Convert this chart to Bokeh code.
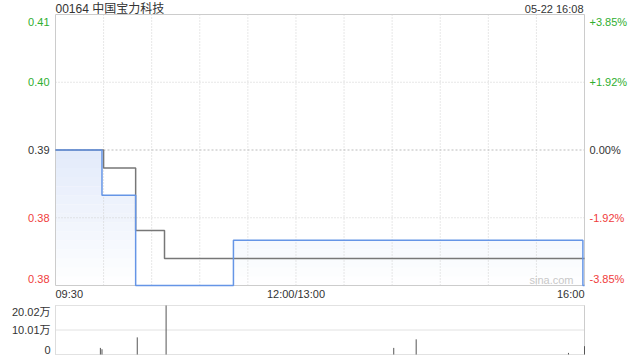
import numpy as np
from bokeh.plotting import figure
from bokeh.models import Range1d
from bokeh.core.properties import value
from bokeh.embed import file_html
from bokeh.resources import INLINE

# ---------------- data ----------------
title_text = "00164 中国宝力科技"
stamp_text = "05-22 16:08"
watermark = "sina.com"
prev_close = 0.39

price_times = ["09:30", "09:59", "10:20", "11:21", "15:59", "16:00"]
price_vals = [0.390, 0.385, 0.375, 0.380, 0.375, 0.375]

avg_times = ["09:30", "10:00", "10:20", "10:38", "16:00"]
avg_vals = [0.390, 0.388, 0.3811, 0.3780, 0.3780]

vol_times = ["09:58", "09:59", "10:21", "10:39", "14:01", "14:15", "15:50", "16:00"]
vol_vals = [27000, 21500, 70000, 200200, 27000, 62000, 6500, 34000]

price_levels = [0.405, 0.3975, 0.39, 0.3825, 0.375]
price_labels = ["0.41", "0.40", "0.39", "0.38", "0.38"]
pct_labels = ["+3.85%", "+1.92%", "0.00%", "-1.92%", "-3.85%"]

vol_levels = [200200, 100100, 0]
vol_labels = ["20.02万", "10.01万", "0"]

x_tick_times = ["09:30", "12:00", "16:00"]
x_tick_labels = ["09:30", "12:00/13:00", "16:00"]
grid_times = ["10:00", "10:30", "11:00", "11:30", "12:00", "13:30",
              "14:00", "14:30", "15:00", "15:30"]

# ---------------- layout (pixels) & styles ----------------
W, H = 640, 360
PX_L, PX_R = 55, 584        # price/volume panel left & right edges
PY_T, PY_B = 14, 285        # price panel top & bottom
VY_T, VY_B = 305, 354       # volume panel top & bottom

FONT = value("Arial, 'Liberation Sans', 'Noto Sans CJK SC', sans-serif")
GREEN = "#2fae2f"
RED = "#f03c3c"
DARK = "#333333"
BORDER = "#cccccc"


def tmin(s):
    h, m = s.split(":")
    t = int(h) * 60 + int(m)
    if t <= 12 * 60:
        return t - (9 * 60 + 30)
    return t - 13 * 60 + 150


def step_pts(xs, ys):
    sx, sy = [], []
    for i in range(len(xs)):
        sx.append(xs[i]); sy.append(ys[i])
        if i + 1 < len(xs):
            sx.append(xs[i + 1]); sy.append(ys[i])
    return np.array(sx, float), np.array(sy, float)


px = [tmin(t) for t in price_times]
ax = [tmin(t) for t in avg_times]
vx = [tmin(t) for t in vol_times]
XMIN, XMAX = tmin("09:30"), tmin("16:00")
PMAX, PMIN = price_levels[0], price_levels[-1]
VMAX = vol_levels[0]

# ranges so that the panels land where the reference shows them
ux = (XMAX - XMIN) / (PX_R - PX_L)
x_range = Range1d(XMIN - PX_L * ux, XMAX + (W - PX_R) * ux)
uy = (PMAX - PMIN) / (PY_B - PY_T)
y_range = Range1d(PMIN - (H - PY_B) * uy, PMAX + PY_T * uy)
uv = VMAX / (VY_B - VY_T)
v_range = Range1d(0 - (H - VY_B) * uv, VMAX + VY_T * uv)

p = figure(width=W, height=H, x_range=x_range, y_range=y_range,
           output_backend="svg", toolbar_location=None, title=None,
           min_border=0, min_border_left=0, min_border_right=0,
           min_border_top=0, min_border_bottom=0)
p.extra_y_ranges = {"vol": v_range}
p.axis.visible = False
p.grid.visible = False
p.outline_line_color = None
p.background_fill_color = "white"
p.border_fill_color = "white"

# ---------------- price panel ----------------
# gradient fill under price line (bands)
sx, sy = step_pts(px, price_vals)
nb = 15
edges = np.linspace(PMIN, prev_close, nb + 1)
top_rgb = np.array([226, 234, 250])
for k in range(nb):
    lo, hi = edges[k], edges[k + 1]
    frac = ((lo + hi) / 2 - PMIN) / (prev_close - PMIN)
    rgb = (255 + frac * (top_rgb - 255)).round().astype(int)
    col = "#%02x%02x%02x" % tuple(rgb)
    p.varea(x=sx, y1=lo, y2=np.clip(sy, lo, hi), fill_color=col, fill_alpha=1)

# grid
gx = [tmin(t) for t in grid_times]
p.segment(x0=gx, y0=[PMIN] * len(gx), x1=gx, y1=[PMAX] * len(gx),
          line_color="#cfcfcf", line_width=1, line_dash="1 2")
hl = [lv for lv in price_levels[1:-1] if lv != prev_close]
p.segment(x0=[XMIN] * len(hl), y0=hl, x1=[XMAX] * len(hl), y1=hl,
          line_color="#cfcfcf", line_width=1, line_dash="1 2")
p.segment(x0=[XMIN], y0=[prev_close], x1=[XMAX], y1=[prev_close],
          line_color="#bbbbbb", line_width=1, line_dash="2 2")

# border
p.quad(left=XMIN, right=XMAX, bottom=PMIN, top=PMAX,
       fill_color=None, line_color=BORDER, line_width=1)

p.step(ax, avg_vals, mode="after", line_color="#777777", line_width=1.5)
p.step(px, price_vals, mode="after", line_color="#6595e6", line_width=1.5)

# price tick labels (left) and percent labels (right)
cols = [GREEN if lv > prev_close else RED if lv < prev_close else DARK
        for lv in price_levels]
offs = [7 if lv == PMAX else -7 if lv == PMIN else 0 for lv in price_levels]
p.text(x=[XMIN] * 5, y=price_levels, text=price_labels, x_offset=-6,
       y_offset=offs, text_align="right", text_baseline="middle",
       text_font=FONT, text_font_size="11px", text_color=cols)
p.text(x=[XMAX] * 5, y=price_levels, text=pct_labels, x_offset=5,
       y_offset=offs, text_align="left", text_baseline="middle",
       text_font=FONT, text_font_size="11px", text_color=cols)

# time labels
p.text(x=[tmin(t) for t in x_tick_times], y=[PMIN] * 3, text=x_tick_labels,
       y_offset=8, text_align=["left", "center", "right"],
       text_baseline="middle", text_font=FONT, text_font_size="11px",
       text_color=DARK)

# title & timestamp
p.text(x=[XMIN], y=[PMAX], text=[title_text], y_offset=-6,
       text_align="left", text_baseline="middle",
       text_font=FONT, text_font_size="12px", text_color=DARK)
p.text(x=[XMAX], y=[PMAX], text=[stamp_text], y_offset=-6, x_offset=-1,
       text_align="right", text_baseline="middle",
       text_font=FONT, text_font_size="11px", text_color=DARK)

# watermark
p.text(x=[XMAX], y=[PMIN], text=[watermark], x_offset=-11, y_offset=-6,
       text_align="right", text_baseline="middle",
       text_font=FONT, text_font_size="11px", text_color="#c8c8c8")

# ---------------- volume panel ----------------
p.segment(x0=[XMIN] * 3, y0=vol_levels, x1=[XMAX] * 3, y1=vol_levels,
          line_color="#c4c4c4", line_width=1, line_dash="1 1", y_range_name="vol")
p.segment(x0=[XMIN], y0=[0], x1=[XMIN], y1=[VMAX],
          line_color="#dddddd", line_width=1, y_range_name="vol")
p.segment(x0=[XMAX], y0=[0], x1=[XMAX], y1=[VMAX],
          line_color=BORDER, line_width=1, y_range_name="vol")

p.segment(x0=vx, y0=[0] * len(vx), x1=vx, y1=vol_vals,
          line_color="#555555", line_width=1, y_range_name="vol")

voffs = [6, 0, -5]
p.text(x=[XMIN] * 3, y=vol_levels, text=vol_labels, x_offset=-5,
       y_offset=voffs, text_align="right", text_baseline="middle",
       text_font=FONT, text_font_size="11px", text_color=DARK,
       y_range_name="vol")

open("out.html", "w").write(file_html(p, INLINE))
